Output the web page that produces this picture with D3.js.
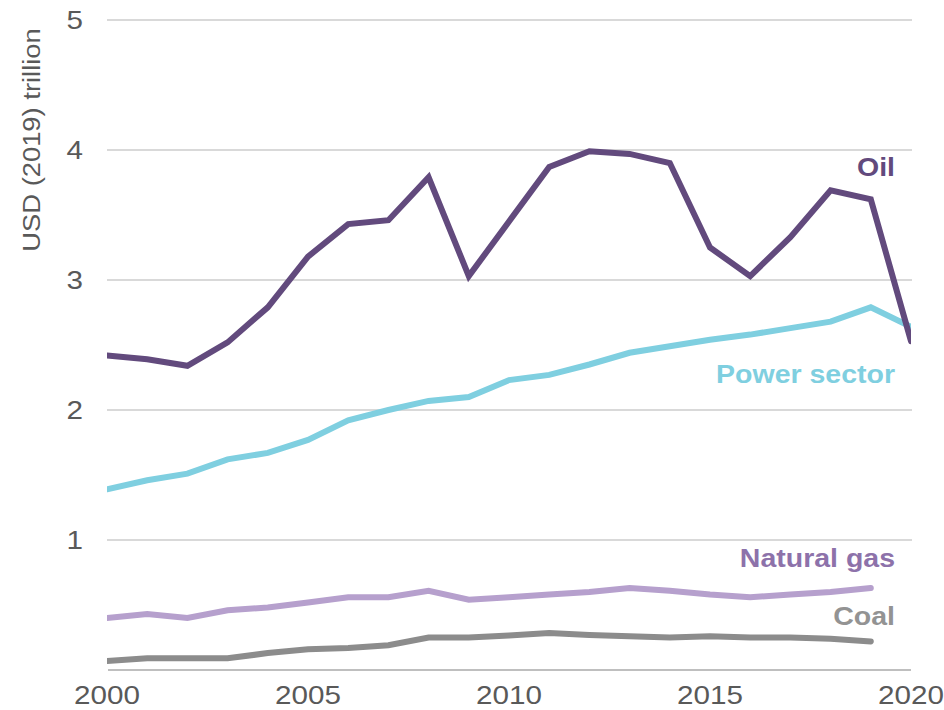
<!DOCTYPE html>
<html>
<head>
<meta charset="utf-8">
<script src="https://cdn.jsdelivr.net/npm/d3@7"></script>
<style>
  html, body { margin: 0; padding: 0; background: #fff; }
  svg { display: block; font-family: "Liberation Sans", Arial, sans-serif; }
</style>
</head>
<body>
<svg id="chart" width="944" height="710"></svg>
<script>
const years = d3.range(2000, 2021);
const oil   = [2.42,2.39,2.34,2.52,2.79,3.18,3.43,3.46,3.79,3.03,3.45,3.87,3.99,3.97,3.90,3.25,3.03,3.33,3.69,3.62,2.53];
const power = [1.39,1.46,1.51,1.62,1.67,1.77,1.92,2.00,2.07,2.10,2.23,2.27,2.35,2.44,2.49,2.54,2.58,2.63,2.68,2.79,2.64];
const gas   = [0.40,0.43,0.40,0.46,0.48,0.52,0.56,0.56,0.61,0.54,0.56,0.58,0.60,0.63,0.61,0.58,0.56,0.58,0.60,0.63];
const coal  = [0.07,0.09,0.09,0.09,0.13,0.16,0.17,0.19,0.25,0.25,0.265,0.285,0.27,0.26,0.25,0.26,0.25,0.25,0.24,0.22];
const yTicks = [1, 2, 3, 4, 5];
const xTicks = [2000, 2005, 2010, 2015, 2020];
const seriesNames = ["Oil", "Power sector", "Natural gas", "Coal"];
const yTitle = "USD (2019) trillion";

const series = [
  { name: seriesNames[0], values: oil,   color: "#624a7d", label: "#624a7d", ly: 3.80 },
  { name: seriesNames[1], values: power, color: "#7fcfe0", label: "#7fcfe0", ly: 2.21 },
  { name: seriesNames[2], values: gas,   color: "#b6a0cd", label: "#8d72aa", ly: 0.79 },
  { name: seriesNames[3], values: coal,  color: "#8c8c8c", label: "#939393", ly: 0.345 }
];

const svg = d3.select("#chart");
const x = d3.scaleLinear().domain([2000, 2020]).range([107, 911]);
const y = d3.scaleLinear().domain([0, 5]).range([670, 20]);
const SX = 1.14;

// gridlines
svg.append("g").selectAll("line").data(yTicks).join("line")
  .attr("x1", x(2000)).attr("x2", x(2020) + 1)
  .attr("y1", d => y(d)).attr("y2", d => y(d))
  .attr("stroke", "#d9d9d9").attr("stroke-width", 2);

// y tick labels
svg.append("g").selectAll("text").data(yTicks).join("text")
  .attr("transform", d => `translate(83,${y(d)}) scale(${SX},1)`)
  .attr("text-anchor", "end").attr("dy", "0.35em")
  .attr("font-size", 26).attr("fill", "#595959")
  .text(d => d);

// y title
svg.append("text")
  .attr("transform", `translate(40,140) rotate(-90) scale(${SX},1)`)
  .attr("text-anchor", "middle")
  .attr("font-size", 24).attr("fill", "#595959")
  .text(yTitle);

// x axis line
svg.append("line")
  .attr("x1", x(2000) + 1).attr("x2", x(2020))
  .attr("y1", y(0)).attr("y2", y(0))
  .attr("stroke", "#bfbfbf").attr("stroke-width", 2);

// x tick labels
svg.append("g").selectAll("text").data(xTicks).join("text")
  .attr("transform", d => `translate(${x(d)},704) scale(${SX},1)`)
  .attr("text-anchor", "middle")
  .attr("font-size", 26).attr("fill", "#595959")
  .text(d => d);

// clip
svg.append("clipPath").attr("id", "plot")
  .append("rect").attr("x", x(2000)).attr("y", 0)
  .attr("width", x(2020) - x(2000)).attr("height", 710);

const line = d3.line().x((d, i) => x(years[i])).y(d => y(d));

const lines = svg.append("g").attr("clip-path", "url(#plot)");
[series[3], series[2], series[1], series[0]].forEach(s => {
  lines.append("path")
    .datum(s.values)
    .attr("d", line)
    .attr("fill", "none")
    .attr("stroke", s.color)
    .attr("stroke-width", 6)
    .attr("stroke-linecap", "round")
    .attr("stroke-linejoin", "miter");
});

// series labels
svg.append("g").selectAll("text").data(series).join("text")
  .attr("transform", d => `translate(895,${y(d.ly)}) scale(${SX},1)`)
  .attr("text-anchor", "end")
  .attr("font-size", 25).attr("font-weight", "bold")
  .attr("fill", d => d.label)
  .text(d => d.name);
</script>
</body>
</html>
